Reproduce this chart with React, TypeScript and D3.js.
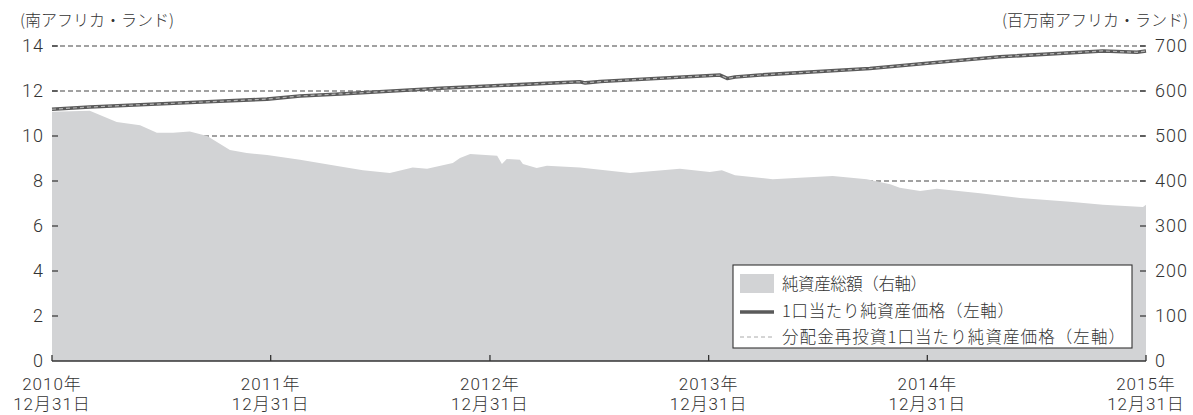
import React from "react";
import * as d3 from "d3";

const W = 1193;
const H = 415;

const navDates = ["2010-12-31","2011-03-04","2011-06-24","2011-09-16","2011-12-25","2012-02-18","2012-04-25","2012-10-09","2013-05-30","2013-06-08","2013-07-03","2014-01-19","2014-01-31","2014-02-13","2014-03-27","2014-09-26","2014-12-31","2015-05-01","2015-10-20","2015-12-16","2015-12-31"];
const navValues = [11.19,11.29,11.42,11.52,11.64,11.78,11.87,12.12,12.41,12.36,12.42,12.71,12.56,12.62,12.71,13.0,13.23,13.52,13.78,13.72,13.78];
const navReinvValues = [11.19,11.29,11.42,11.52,11.64,11.78,11.87,12.12,12.41,12.36,12.42,12.71,12.56,12.62,12.71,13.0,13.23,13.52,13.78,13.72,13.78];

const assetDates = ["2010-12-31","2011-03-04","2011-04-18","2011-05-27","2011-06-24","2011-07-21","2011-08-18","2011-09-16","2011-10-24","2011-11-21","2011-12-25","2012-02-18","2012-04-25","2012-06-02","2012-07-17","2012-08-24","2012-09-17","2012-10-30","2012-11-11","2012-11-28","2013-01-12","2013-01-20","2013-01-28","2013-02-19","2013-02-24","2013-03-19","2013-04-05","2013-05-30","2013-08-22","2013-11-13","2014-01-02","2014-01-22","2014-02-13","2014-04-17","2014-06-01","2014-07-26","2014-09-21","2014-10-30","2014-11-15","2014-12-19","2015-01-16","2015-03-29","2015-06-04","2015-08-26","2015-10-20","2015-12-26","2015-12-31"];
const assetValues = [554,556,531,524,507,507,510,500,469,462,458,447,432,424,418,430,427,440,451,460,456,438,449,447,438,429,434,430,418,427,420,424,413,404,407,411,404,393,385,378,383,373,362,354,347,342,347];

const leftTicks = [0, 2, 4, 6, 8, 10, 12, 14];
const rightTicks = [0, 100, 200, 300, 400, 500, 600, 700];
const yearTickDates = ["2010-12-31","2011-12-31","2012-12-31","2013-12-31","2014-12-31","2015-12-31"];
const yearLabels = ["2010年","2011年","2012年","2013年","2014年","2015年"];
const dayLabel = "12月31日";
const leftTitle = "(南アフリカ・ランド)";
const rightTitle = "(百万南アフリカ・ランド)";
const legendLabels = ["純資産総額（右軸）","1口当たり純資産価格（左軸）","分配金再投資1口当たり純資産価格（左軸）"];

const FONT = "'Noto Sans CJK JP', 'Noto Sans', sans-serif";
const NUMFONT = "Roboto, 'Noto Sans CJK JP', sans-serif";
const TXT = "#333";
const AREA = "#d2d3d5";

export default function App() {
  const parse = d3.timeParse("%Y-%m-%d");
  const x = d3.scaleTime().domain([parse("2010-12-31")!, parse("2015-12-31")!]).range([52, 1146]);
  const yL = d3.scaleLinear().domain([0, 14]).range([361, 46]);
  const yR = d3.scaleLinear().domain([0, 700]).range([361, 46]);

  const assetData = assetDates.map((d, i) => ({ d: parse(d)!, v: assetValues[i] }));
  const navData = navDates.map((d, i) => ({ d: parse(d)!, v: navValues[i] }));
  const reinvData = navDates.map((d, i) => ({ d: parse(d)!, v: navReinvValues[i] }));

  const area = d3.area<{ d: Date; v: number }>().x((p) => x(p.d)).y0(yR(0)).y1((p) => yR(p.v));
  const line = d3.line<{ d: Date; v: number }>().x((p) => x(p.d)).y((p) => yL(p.v));

  const x0 = x.range()[0];
  const x1 = x.range()[1];
  const base = yL(0);

  return (
    <svg width={W} height={H} style={{ position: "absolute", left: 0, top: 0, background: "#fff" }} fontFamily={FONT} fontWeight={300}>
      {leftTicks.filter((t) => t > 0).map((t) => (
        <line key={"g" + t} x1={x0} x2={x1} y1={yL(t)} y2={yL(t)} stroke="#444" strokeWidth={1.1} strokeDasharray="5,3" />
      ))}
      <path d={area(assetData)!} fill={AREA} />
      {leftTicks.filter((t) => t > 0).map((t) => (
        <line key={"lt" + t} x1={x0} x2={x0 + 6} y1={yL(t)} y2={yL(t)} stroke="#333" strokeWidth={1.2} />
      ))}
      {rightTicks.filter((t) => t > 0).map((t) => (
        <line key={"rt" + t} x1={x1 - 6} x2={x1} y1={yR(t)} y2={yR(t)} stroke="#333" strokeWidth={1.2} />
      ))}
      <path d={line(navData)!} fill="none" stroke="#5a5a5a" strokeWidth={3.6} strokeLinejoin="round" />
      <path d={line(reinvData)!} fill="none" stroke="#b4b4b4" strokeWidth={1.2} strokeDasharray="4,3" />
      <line x1={x0} x2={x1} y1={base} y2={base} stroke="#333" strokeWidth={1.5} />
      {yearTickDates.map((d) => (
        <line key={"xt" + d} x1={x(parse(d)!)} x2={x(parse(d)!)} y1={base} y2={base - 6} stroke="#333" strokeWidth={1.3} />
      ))}
      {yearTickDates.map((d, i) => (
        <text key={"xl" + d} fontSize={17} fill={TXT} textAnchor="middle" letterSpacing={1} fontFamily={NUMFONT}>
          <tspan x={x(parse(d)!)} y={390}>{yearLabels[i]}</tspan>
          <tspan x={x(parse(d)!)} y={410}>{dayLabel}</tspan>
        </text>
      ))}
      {leftTicks.map((t) => (
        <text key={"ll" + t} x={44} y={yL(t)} dy="0.36em" textAnchor="end" fontSize={18} fill={TXT} letterSpacing={1} fontFamily={NUMFONT}>{t}</text>
      ))}
      {rightTicks.map((t) => (
        <text key={"rl" + t} x={1155} y={yR(t)} dy="0.36em" textAnchor="start" fontSize={18} fill={TXT} letterSpacing={1} fontFamily={NUMFONT}>{t}</text>
      ))}
      <text x={20} y={26} fontSize={16} fill={TXT}>{leftTitle}</text>
      <text x={1188} y={26} fontSize={16} fill={TXT} textAnchor="end">{rightTitle}</text>
      <rect x={733} y={265} width={399} height={83} fill="#fff" stroke="#333" strokeWidth={1.1} />
      <rect x={740} y={274} width={34} height={19} fill={AREA} />
      <line x1={740} x2={774} y1={312} y2={312} stroke="#5a5a5a" strokeWidth={3.6} />
      <line x1={740} x2={774} y1={337} y2={337} stroke="#aaa" strokeWidth={1} strokeDasharray="4,3" />
      <text x={782} y={290} fontSize={16.5} fill={TXT} textLength={145} lengthAdjust="spacing">{legendLabels[0]}</text>
      <text x={782} y={317} fontSize={16.5} fill={TXT} textLength={232} lengthAdjust="spacing">{legendLabels[1]}</text>
      <text x={782} y={343} fontSize={16.5} fill={TXT} textLength={343} lengthAdjust="spacing">{legendLabels[2]}</text>
    </svg>
  );
}
